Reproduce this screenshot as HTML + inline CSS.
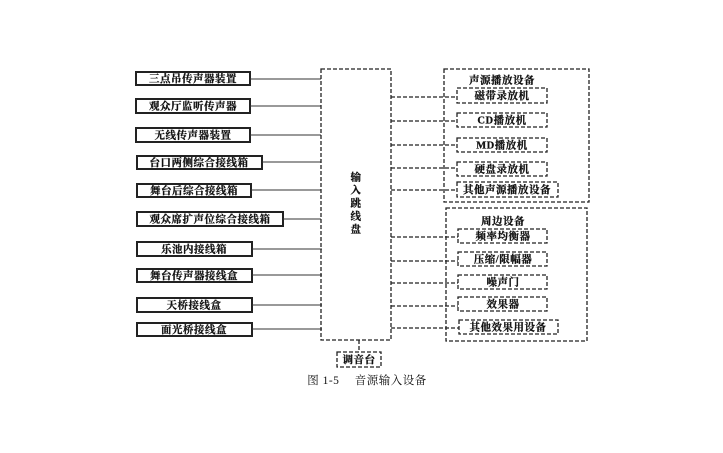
<!DOCTYPE html>
<html><head><meta charset="utf-8"><style>
html,body{margin:0;padding:0;background:#fff;}
svg{display:block;}
text{font-family:"Liberation Serif","Noto Serif CJK SC","Noto Sans CJK SC",serif;font-weight:bold;font-size:10.5px;letter-spacing:0.5px;fill:#111;stroke:#111;stroke-width:0.25;dominant-baseline:central;}
</style></head><body>
<svg width="723" height="453" viewBox="0 0 723 453" xmlns="http://www.w3.org/2000/svg">
<g fill="none" stroke="#222" stroke-width="2">
<rect x="136" y="72" width="114" height="13"/>
<rect x="136" y="99" width="114" height="14"/>
<rect x="136" y="128" width="114" height="14"/>
<rect x="137" y="156" width="125" height="13"/>
<rect x="137" y="184" width="114" height="13"/>
<rect x="137" y="212" width="146" height="14"/>
<rect x="137" y="242" width="115" height="14"/>
<rect x="137" y="269" width="115" height="13"/>
<rect x="137" y="298" width="115" height="14"/>
<rect x="137" y="323" width="115" height="13"/>
</g>
<g stroke="#333" stroke-width="1">
<line x1="250" y1="79" x2="321" y2="79"/>
<line x1="250" y1="106" x2="321" y2="106"/>
<line x1="250" y1="135" x2="321" y2="135"/>
<line x1="262" y1="162" x2="321" y2="162"/>
<line x1="251" y1="190" x2="321" y2="190"/>
<line x1="283" y1="219" x2="321" y2="219"/>
<line x1="252" y1="249" x2="322" y2="249"/>
<line x1="252" y1="275" x2="322" y2="275"/>
<line x1="252" y1="305" x2="322" y2="305"/>
<line x1="252" y1="329" x2="322" y2="329"/>
</g>
<g fill="none" stroke="#222" stroke-width="1.3" stroke-dasharray="4,2">
<rect x="321" y="69" width="70" height="271"/>
<rect x="337" y="352" width="44" height="15"/>
<line x1="359" y1="340" x2="359" y2="352"/>
<rect x="444" y="69" width="145" height="133"/>
<rect x="446" y="208" width="141" height="133"/>
<rect x="457" y="88" width="90" height="15"/>
<rect x="457" y="113" width="90" height="14"/>
<rect x="457" y="138" width="90" height="14"/>
<rect x="457" y="162" width="90" height="14"/>
<rect x="457" y="182" width="101" height="15"/>
<rect x="458" y="229" width="89" height="14"/>
<rect x="458" y="252" width="89" height="14"/>
<rect x="458" y="275" width="89" height="14"/>
<rect x="458" y="297" width="89" height="14"/>
<rect x="459" y="320" width="99" height="14"/>
<line x1="391" y1="97" x2="457" y2="97"/>
<line x1="391" y1="121" x2="457" y2="121"/>
<line x1="391" y1="145" x2="457" y2="145"/>
<line x1="391" y1="168" x2="457" y2="168"/>
<line x1="391" y1="190" x2="457" y2="190"/>
<line x1="391" y1="237" x2="458" y2="237"/>
<line x1="391" y1="261" x2="458" y2="261"/>
<line x1="391" y1="283" x2="458" y2="283"/>
<line x1="391" y1="306" x2="458" y2="306"/>
<line x1="391" y1="328" x2="459" y2="328"/>
</g>
<g text-anchor="middle" transform="translate(0,1)">
<text x="193" y="78.5">三点吊传声器装置</text>
<text x="193" y="106">观众厅监听传声器</text>
<text x="193" y="135">无线传声器装置</text>
<text x="199" y="162.5">台口两侧综合接线箱</text>
<text x="194" y="190.5">舞台后综合接线箱</text>
<text x="210" y="219">观众席扩声位综合接线箱</text>
<text x="194" y="249">乐池内接线箱</text>
<text x="194" y="275.5">舞台传声器接线盒</text>
<text x="194" y="305">天桥接线盒</text>
<text x="194" y="329.5">面光桥接线盒</text>
<text x="356" y="177">输</text>
<text x="356" y="190">入</text>
<text x="356" y="203">跳</text>
<text x="356" y="216">线</text>
<text x="356" y="229">盘</text>
<text x="359" y="359.5">调音台</text>
<text x="502" y="80">声源播放设备</text>
<text x="502" y="95.5">磁带录放机</text>
<text x="502" y="120">CD播放机</text>
<text x="502" y="145">MD播放机</text>
<text x="502" y="169">硬盘录放机</text>
<text x="507" y="189.5">其他声源播放设备</text>
<text x="503" y="221">周边设备</text>
<text x="503" y="236">频率均衡器</text>
<text x="503" y="259">压缩/限幅器</text>
<text x="503" y="282">噪声门</text>
<text x="503" y="304">效果器</text>
<text x="508" y="327">其他效果用设备</text>
<text x="367" y="380" style="font-size:11.5px;font-weight:normal;stroke-width:0">图 1-5　 音源输入设备</text>
</g>
</svg>
</body></html>
